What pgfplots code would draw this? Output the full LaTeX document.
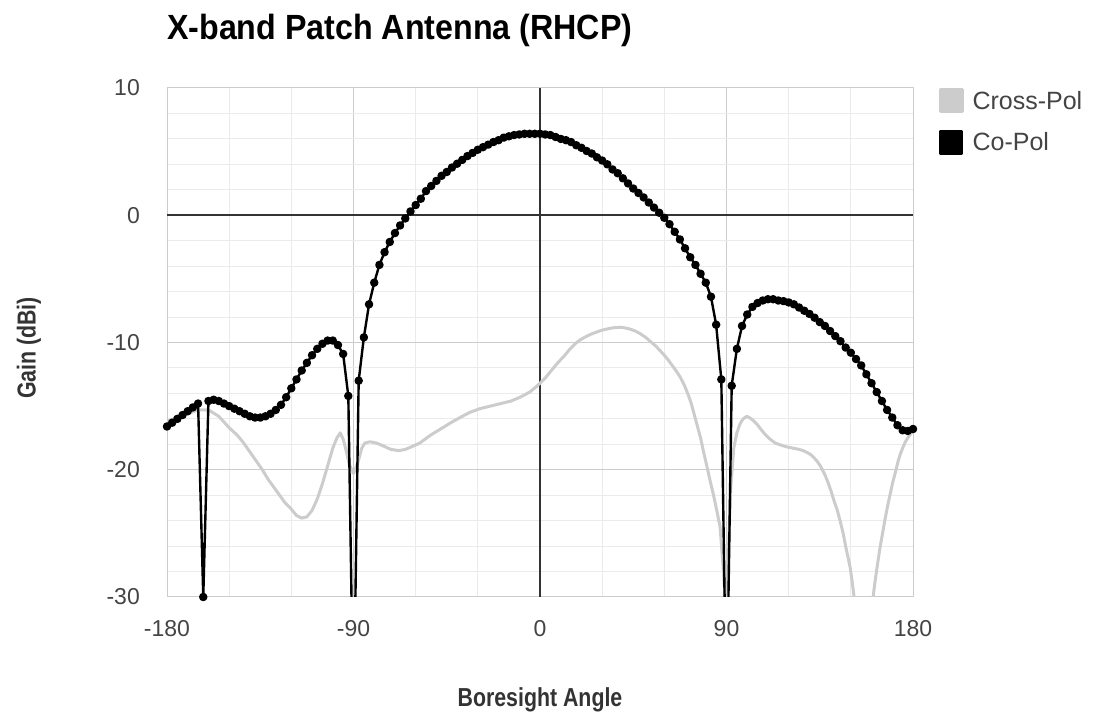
\documentclass[border=0pt]{standalone}
\usepackage{fontspec}
\setmainfont{Liberation Sans}
\newfontfamily\titlefont[FakeStretch=0.92]{Liberation Sans}
\newfontfamily\labfont[FakeStretch=0.82]{Liberation Sans}
\usepackage{pgfplots}
\pgfplotsset{compat=1.18}
\definecolor{crossgray}{HTML}{CCCCCC}
\definecolor{majgrid}{HTML}{CCCCCC}
\definecolor{mingrid}{HTML}{EBEBEB}
\definecolor{basecol}{HTML}{333333}
\definecolor{tickcol}{HTML}{444444}
\begin{document}
\begin{tikzpicture}[x=1pt,y=1pt]
\useasboundingbox (0,0) rectangle (1095,717);
\begin{axis}[
  at={(167pt,120pt)}, anchor=south west,
  scale only axis, width=746pt, height=509pt,
  xmin=-180, xmax=180, ymin=-30, ymax=10,
  xtick={-180,-90,0,90,180},
  ytick={-30,-20,-10,0,10},
  minor xtick={-150,-120,-60,-30,30,60,120,150},
  minor ytick={-28,-26,-24,-22,-18,-16,-14,-12,-8,-6,-4,-2,2,4,6,8},
  grid=both,
  major grid style={draw=majgrid, line width=1pt},
  minor grid style={draw=mingrid, line width=1pt},
  axis line style={draw=majgrid, line width=1pt},
  major tick length=0pt, minor tick length=0pt,
  tick style={draw=none},
  /pgf/number format/assume math mode=true,
  ticklabel style={font=\fontsize{23}{27}\selectfont, text=tickcol, inner sep=0pt},
  yticklabel style={anchor=east, xshift=-27pt},
  xticklabel style={anchor=north, yshift=-23pt},
  legend style={at={(1.034,1.0)}, anchor=north west, draw=none, fill=none,
    font=\fontsize{25}{29}\selectfont, text=tickcol, row sep=17pt, inner sep=0pt,
    nodes={inner sep=2pt}},
  legend cell align=left,
  legend image code/.code={\fill[#1] (0pt,-11pt) rectangle (22pt,11pt);},
]
\draw[basecol, line width=1.5pt] (axis cs:0,-30) -- (axis cs:0,10);
\draw[basecol, line width=1.5pt] (axis cs:-180,0) -- (axis cs:180,0);
\addplot[color=crossgray, line width=3pt, line join=round] coordinates {
(-180,-16.2) (-175,-15.9) (-170,-15.6) (-165,-15.3) (-160,-15.3) (-155,-15.8)
(-150,-16.7) (-146,-17.3) (-143,-17.9) (-140,-18.6) (-137,-19.3) (-134,-20.0)
(-131,-20.8) (-127,-21.7) (-123,-22.6) (-120,-23.1) (-117.5,-23.6) (-115,-23.8)
(-112.5,-23.7) (-110,-23.2) (-107.5,-22.3) (-105,-21.1) (-102.5,-19.7) (-100,-18.3)
(-98,-17.5) (-96.4,-17.1) (-95,-17.6) (-94,-18.2) (-92,-19.6) (-90,-20.3)
(-88,-19.5) (-86,-18.3) (-84.5,-17.9) (-82,-17.8) (-79,-17.9) (-76,-18.1)
(-72,-18.4) (-68,-18.5) (-65,-18.4) (-62,-18.2) (-58,-17.9) (-53,-17.3)
(-48,-16.8) (-43,-16.3) (-38.6,-15.9) (-34,-15.5) (-29,-15.2) (-24,-15.0)
(-19,-14.8) (-14,-14.6) (-9.6,-14.3) (-5,-13.9) (-2,-13.5) (0,-13.2)
(2.5,-12.8) (5,-12.3) (7.5,-11.8) (9.7,-11.4) (12,-11.0) (14.5,-10.5)
(17,-10.1) (19.3,-9.8) (22,-9.55) (24.5,-9.35) (27,-9.2) (29.5,-9.05)
(32,-8.95) (35,-8.85) (38.6,-8.8) (41,-8.85) (43.5,-8.95) (46,-9.1)
(48.3,-9.3) (51,-9.6) (53.5,-9.95) (56,-10.3) (58,-10.65) (60,-11.0)
(62,-11.4) (64,-11.85) (66,-12.3) (67.6,-12.7) (69.5,-13.3) (71.5,-14.1)
(73,-14.8) (74.5,-15.7) (76,-16.6) (77.5,-17.5) (78.8,-18.5) (80.5,-19.7)
(82,-20.8) (83.6,-21.9) (85.3,-23.2) (86.9,-24.5) (88.3,-27.5) (89.5,-30.5)
(90.8,-27.0) (92,-21.5) (93.5,-18.3) (95,-17.1) (96.5,-16.4) (98,-16.0)
(99.8,-15.8) (101.5,-15.95) (103,-16.15) (104.6,-16.4) (106.5,-16.8) (108.5,-17.2)
(111,-17.6) (113.5,-17.9) (116,-18.05) (119,-18.2) (122,-18.3) (125,-18.4)
(127,-18.5) (129,-18.65) (131,-18.85) (133.6,-19.3) (135.5,-19.75) (137.5,-20.4)
(139,-21.0) (140.5,-21.7) (142,-22.5) (143.5,-23.2) (144.8,-24.0) (146.3,-25.0)
(147.6,-26.1) (148.8,-27.0) (149.7,-27.7) (150.8,-29.0) (152.5,-31.2) (155,-35)
(157.5,-35) (160,-31) (161.5,-29.0) (162.8,-27.5) (164.1,-26.1) (165.3,-25.0)
(166.5,-23.9) (167.8,-22.8) (169,-21.9) (170.2,-21.0) (171.5,-20.2) (172.7,-19.4)
(173.8,-18.8) (175,-18.3) (176.3,-17.8) (177.5,-17.5) (178.7,-17.2) (180,-16.9)
};
\addlegendentry{\hspace{7pt}Cross-Pol}
\addplot[color=black, line width=2.4pt, line join=round, mark=*, mark size=3pt,
  mark options={solid, fill=black}] coordinates {
(-180,-16.6) (-177.5,-16.3) (-175,-16.0) (-172.5,-15.7) (-170,-15.4) (-167.5,-15.1)
(-165,-14.8) (-162.5,-30) (-160,-14.6) (-157.5,-14.5) (-155,-14.6) (-152.5,-14.8)
(-150,-15.0) (-147.5,-15.2) (-145,-15.4) (-142.5,-15.6) (-140,-15.8) (-137.5,-15.9)
(-135,-15.9) (-132.5,-15.8) (-130,-15.6) (-127.5,-15.3) (-125,-14.9) (-122.5,-14.3)
(-120,-13.6) (-117.5,-12.9) (-115,-12.2) (-112.5,-11.6) (-110,-11.0) (-107.5,-10.5)
(-105,-10.1) (-102.5,-9.85) (-100,-9.85) (-97.5,-10.2) (-95,-10.9) (-92.5,-14.2)
(-90,-40) (-87.5,-13.0) (-85,-9.6) (-82.5,-7.0) (-80,-5.3) (-77.5,-3.9)
(-75,-2.9) (-72.5,-2.1) (-70,-1.4) (-67.5,-0.8) (-65,-0.25) (-62.5,0.3)
(-60,0.8) (-57.5,1.3) (-55,1.9) (-52.5,2.3) (-50,2.7) (-47.5,3.1)
(-45,3.4) (-42.5,3.75) (-40,4.05) (-37.5,4.35) (-35,4.65) (-32.5,4.9)
(-30,5.15) (-27.5,5.35) (-25,5.55) (-22.5,5.75) (-20,5.9) (-17.5,6.1)
(-15,6.2) (-12.5,6.3) (-10,6.35) (-7.5,6.4) (-5,6.4) (-2.5,6.4)
(0,6.4) (2.5,6.35) (5,6.3) (7.5,6.15) (10,6.0) (12.5,5.9)
(15,5.75) (17.5,5.5) (20,5.3) (22.5,5.05) (25,4.85) (27.5,4.55)
(30,4.3) (32.5,4.0) (35,3.6) (37.5,3.3) (40,2.9) (42.5,2.5)
(45,2.1) (47.5,1.75) (50,1.4) (52.5,1.0) (55,0.6) (57.5,0.2)
(60,-0.2) (62.5,-0.7) (65,-1.3) (67.5,-1.9) (70,-2.6) (72.5,-3.3)
(75,-3.9) (77.5,-4.6) (80,-5.3) (82.5,-6.4) (85,-8.6) (87.5,-12.9)
(90,-40) (92.5,-13.4) (95,-10.5) (97.5,-8.7) (100,-7.8) (102.5,-7.2)
(105,-6.9) (107.5,-6.7) (110,-6.6) (112.5,-6.6) (115,-6.7) (117.5,-6.75)
(120,-6.85) (122.5,-7.0) (125,-7.25) (127.5,-7.5) (130,-7.75) (132.5,-8.05)
(135,-8.4) (137.5,-8.7) (140,-9.1) (142.5,-9.5) (145,-9.9) (147.5,-10.4)
(150,-10.8) (152.5,-11.3) (155,-11.8) (157.5,-12.5) (160,-13.2) (162.5,-13.9)
(165,-14.6) (167.5,-15.3) (170,-15.9) (172.5,-16.5) (175,-16.9) (177.5,-16.95)
(180,-16.8)
};
\addlegendentry{\hspace{7pt}Co-Pol}
\end{axis}
\node[anchor=base west, inner sep=0pt] at (167,677)
  {\titlefont\bfseries\fontsize{35}{40}\selectfont X-band Patch Antenna (RHCP)};
\node[rotate=90, inner sep=0pt, text=basecol] at (29,369)
  {\labfont\bfseries\fontsize{26}{30}\selectfont Gain (dBi)};
\node[inner sep=0pt, text=basecol, anchor=base] at (540,10)
  {\labfont\bfseries\fontsize{26}{30}\selectfont Boresight Angle};
\end{tikzpicture}
\end{document}
